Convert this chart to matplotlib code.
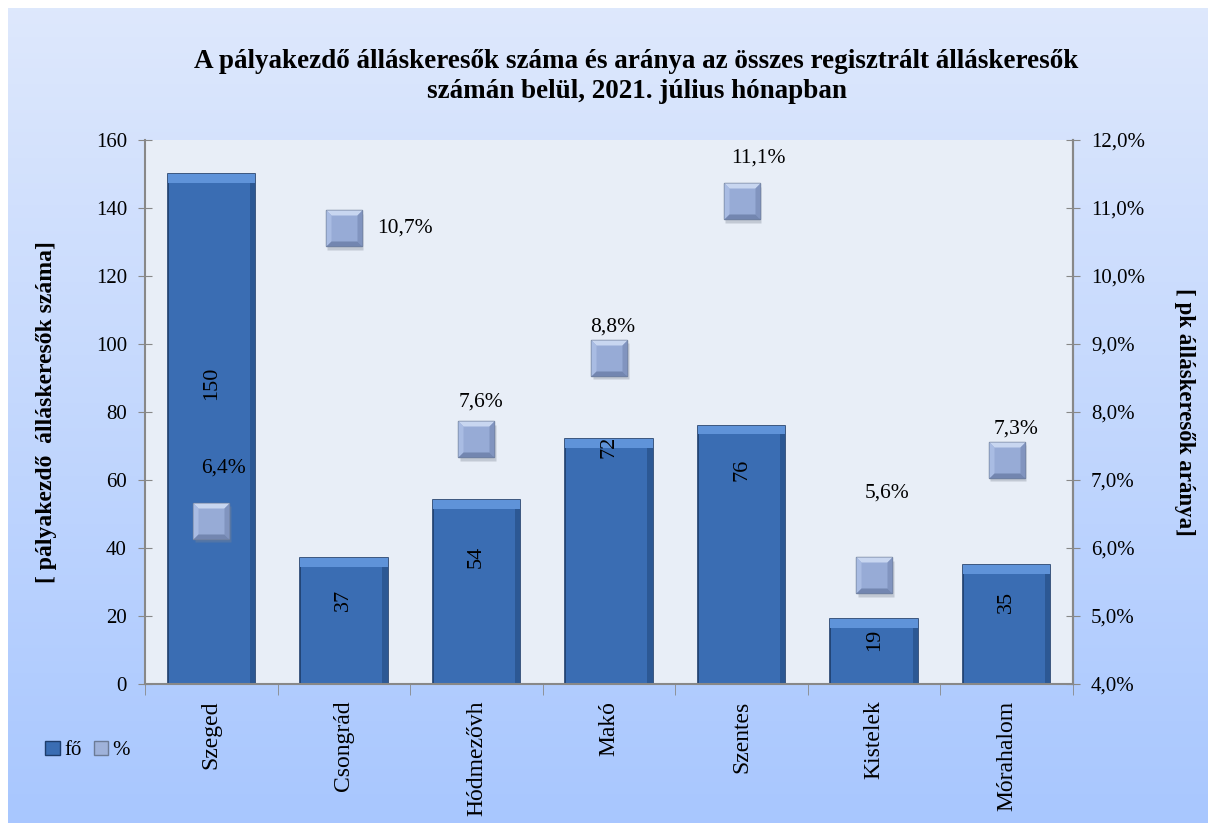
import numpy as np
import matplotlib.pyplot as plt
from matplotlib.patches import Patch
from matplotlib.lines import Line2D
from matplotlib.ticker import FuncFormatter, MultipleLocator

plt.rcParams['font.family'] = ['Liberation Serif', 'DejaVu Serif']

# data
cities = ['Szeged', 'Csongrád', 'Hódmezővh', 'Makó', 'Szentes', 'Kistelek', 'Mórahalom']
fo = [150, 37, 54, 72, 76, 19, 35]
arany = [6.4, 10.7, 7.6, 8.8, 11.1, 5.6, 7.3]

# label placement (style only)
bar_lab_frac = [0.59, 0.67, 0.69, 0.97, 0.83, 0.68, 0.69]
pct_lab_off = [(9, 38), (44, 0), (3, 27), (3, 22), (12, 31), (9, 59), (7, 22)]

fig = plt.figure(figsize=(12.08, 8.23), dpi=100)

# background gradient
bg = fig.add_axes([8 / 1208, 0, 1 - 8 / 1208, 1 - 8 / 823], zorder=-10)
grad = np.linspace(0, 1, 256).reshape(-1, 1)
top = np.array([0.87, 0.91, 0.99])
bot = np.array([0.66, 0.78, 1.0])
img = top + (bot - top) * grad[:, :, None]
bg.imshow(img, aspect='auto', extent=[0, 1, 0, 1], origin='upper')
bg.axis('off')

ax = fig.add_axes([145 / 1208, 139 / 823, 928 / 1208, 544 / 823])
ax.set_facecolor('#e8eef7')
x = np.arange(len(cities))
w = 0.66

ax.bar(x, fo, width=w, color='#3a6db3', edgecolor='#1e3d6b', linewidth=1.2, zorder=2)
ax.bar(x, [2.5] * len(fo), bottom=np.array(fo) - 2.5, width=w, color='#5f93d9',
       edgecolor='none', zorder=3)
ax.bar(x + w / 2 - 0.02, fo, width=0.04, color='#2c5894', edgecolor='none', zorder=2.5)
for i, v in enumerate(fo):
    ax.text(x[i], v * bar_lab_frac[i], str(v), rotation=90, ha='center', va='center',
            fontsize=16, zorder=6)

ax.set_xlim(-0.5, len(cities) - 0.5)
ax.set_ylim(0, 160)
ax.yaxis.set_major_locator(MultipleLocator(20))
ax.set_xticks(x)
ax.set_xticklabels(cities, rotation=90, fontsize=17)
ax.set_xticks(np.arange(-0.5, len(cities), 1), minor=True)
ax.tick_params(axis='x', which='major', length=0, pad=12)
ax.tick_params(axis='x', which='minor', length=8, color='#888888', direction='out')
ax.tick_params(axis='y', labelsize=15, length=10, direction='inout', color='#888888', pad=8)
for s in ['top']:
    ax.spines[s].set_visible(False)
for s in ['left', 'bottom', 'right']:
    ax.spines[s].set_color('#888888')
    ax.spines[s].set_linewidth(1.5)
ax.set_ylabel('[ pályakezdő  álláskeresők száma]', fontsize=17, fontweight='bold', labelpad=28)

# right axis with bevelled squares
ax2 = ax.twinx()
ax2.set_ylim(4, 12)
ax2.yaxis.set_major_locator(MultipleLocator(1))
ax2.yaxis.set_major_formatter(FuncFormatter(lambda v, p: f'{v:.1f}'.replace('.', ',') + '%'))
ax2.tick_params(axis='y', labelsize=15, length=10, direction='inout', color='#888888', pad=8)
for s in ['top', 'left', 'bottom']:
    ax2.spines[s].set_visible(False)
ax2.spines['right'].set_color('#888888')
ax2.spines['right'].set_linewidth(1.5)
ax2.set_ylabel('[ pk álláskeresők aránya]', fontsize=16.5, fontweight='bold', rotation=270,
               labelpad=36)

ms = 26
k = 0.72
faces = {
    'top': ([(-1, 1), (1, 1), (k, k), (-k, k)], '#c8d6f0'),
    'left': ([(-1, 1), (-k, k), (-k, -k), (-1, -1)], '#a9bce3'),
    'right': ([(1, 1), (1, -1), (k, -k), (k, k)], '#8194bf'),
    'bottom': ([(-1, -1), (-k, -k), (k, -k), (1, -1)], '#7386b0'),
}
ax2.plot(x + 0.012, np.array(arany) - 0.05, ls='none', marker='s', ms=ms, mfc='#7d8594',
         mec='none', alpha=0.35, zorder=4)
ax2.plot(x, arany, ls='none', marker='s', ms=ms, mfc='#97abd6', mec='#6c7b96', mew=1, zorder=5)
for name, (verts, col) in faces.items():
    ax2.plot(x, arany, ls='none', marker=verts, ms=ms, mfc=col, mec='none', zorder=5)
for i, v in enumerate(arany):
    ax2.annotate(f'{v:.1f}'.replace('.', ',') + '%', (x[i], v), xytext=pct_lab_off[i],
                 textcoords='offset points', ha='center', va='center', fontsize=15.5, zorder=7)

fig.suptitle('A pályakezdő álláskeresők száma és aránya az összes regisztrált álláskeresők\n'
             'számán belül, 2021. július hónapban', x=0.527, y=0.94, fontsize=19.5,
             fontweight='bold', linespacing=1.22)

handles = [Patch(facecolor='#3a6db3', edgecolor='#1e3d6b'),
           Line2D([], [], ls='none', marker='s', ms=10, mfc='#9fb2da', mec='#6c7b96')]
fig.legend(handles, ['fő', '%'], loc='center left', bbox_to_anchor=(0.022, 0.088), ncol=2,
           frameon=False, fontsize=15, handlelength=0.7, handletextpad=0.2, columnspacing=0.6)

fig.savefig('out.png', dpi=100)
